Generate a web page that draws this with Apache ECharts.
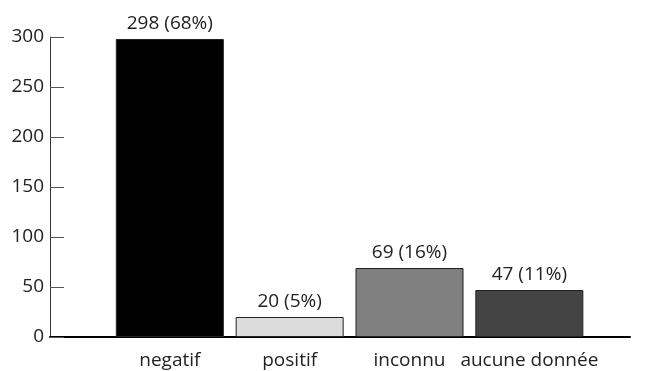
<!DOCTYPE html>
<html>
<head>
<meta charset="utf-8">
<script src="https://cdn.jsdelivr.net/npm/echarts@6/dist/echarts.min.js"></script>
<style>
  html, body { margin: 0; padding: 0; background: #fff; }
  #chart { width: 645px; height: 371px; }
</style>
</head>
<body>
<div id="chart"></div>
<script>
// Test results per category
const categories = ['negatif', 'positif', 'inconnu', 'aucune donnée'];
const counts = [298, 20, 69, 47];
const shares = [68, 5, 16, 11];
const barColors = ['#000000', '#dcdcdc', '#808080', '#444444'];
const yTicks = [0, 50, 100, 150, 200, 250, 300];

const FONT = '"Open Sans", "Liberation Sans", sans-serif';
const FS = 19;

const chart = echarts.init(document.getElementById('chart'));

// Bars sit at integer positions on a value axis so the baseline can run
// further left and right than the bars themselves.
const seriesData = counts.map((v, i) => ({
  value: [i, v],
  itemStyle: { color: barColors[i] }
}));

chart.setOption({
  animation: false,
  grid: { left: 50, right: 15, top: 37, bottom: 34, containLabel: false },
  xAxis: {
    type: 'value',
    min: -1,
    max: 3.84,
    interval: 1,
    splitLine: { show: false },
    axisLine: { show: true, onZero: false, lineStyle: { color: '#000', width: 2 } },
    axisTick: { show: false },
    axisLabel: {
      showMaxLabel: false,
      margin: 14,
      fontFamily: FONT,
      fontSize: FS,
      color: '#222',
      formatter: v => (Number.isInteger(v) && v >= 0 && v < categories.length) ? categories[v] : ''
    }
  },
  yAxis: {
    type: 'value',
    min: yTicks[0],
    max: yTicks[yTicks.length - 1],
    interval: 50,
    position: 'left',
    splitLine: { show: false },
    axisLine: { show: true, onZero: false, lineStyle: { color: '#333', width: 1 } },
    axisTick: { show: true, inside: true, length: 14, lineStyle: { color: '#555' } },
    axisLabel: {
      margin: 6,
      fontFamily: FONT,
      fontSize: FS,
      color: '#222'
    }
  },
  series: [{
    type: 'bar',
    barWidth: 108,
    data: seriesData,
    itemStyle: { borderColor: '#222', borderWidth: 1 },
    label: {
      show: true,
      position: 'top',
      distance: 6,
      fontFamily: FONT,
      fontSize: FS,
      color: '#222',
      formatter: p => counts[p.dataIndex] + ' (' + shares[p.dataIndex] + '%)'
    }
  }]
});
</script>
</body>
</html>
